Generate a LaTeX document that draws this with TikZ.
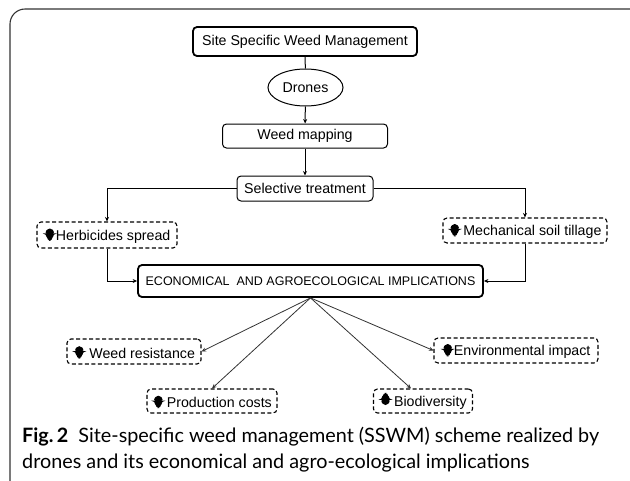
\documentclass[tikz,border=0pt]{standalone}
\usepackage{fontspec}
\setmainfont{Liberation Sans}
\newfontfamily\capfont{Lato}
\usetikzlibrary{shapes.geometric,arrows.meta}
% the nested pictures come out flipped, so they are drawn upside down here
\newcommand{\arrdown}{\tikz[baseline=0pt,x=1pt,y=1pt]\fill (-3,-0.5) -- (3,-0.5) -- (3,6.8) -- (6.2,6.8) -- (0,13.5) -- (-6.2,6.8) -- (-3,6.8) -- cycle;}
\newcommand{\arrup}{\tikz[baseline=0pt,x=1pt,y=1pt]\fill (-3,13.5) -- (3,13.5) -- (3,6.5) -- (6.2,6.5) -- (0,-0.5) -- (-6.2,6.5) -- (-3,6.5) -- cycle;}
\begin{document}
\begin{tikzpicture}[x=1pt, y=-1pt, >={Stealth[length=4.5pt,width=4pt]},
            box/.style={draw, rectangle, rounded corners=4pt, line width=1pt, inner sep=0pt, font=\fontsize{14.2}{16}\selectfont},
            bigbox/.style={box, line width=1.8pt},
            dbox/.style={box, dashed, dash pattern=on 4pt off 2.5pt, line width=1.1pt}]
            \useasboundingbox (0,0) rectangle (630,480);
            \draw[line width=1.1pt, black!80, rounded corners=15pt] (10,9) rectangle (648,496);

            \node[bigbox, minimum width=224pt, minimum height=29pt] (site) at (305,41.5) {Site Specific Weed Management};
            \node[draw, ellipse, line width=1pt, inner sep=0pt, minimum width=75pt, minimum height=37pt, font=\fontsize{14.2}{16}\selectfont] (drones) at (305.5,87.5) {Drones};
            \node[box, minimum width=165pt, minimum height=24pt] (mapping) at (305,136) {Weed mapping};
            \node[box, minimum width=136pt, minimum height=25pt] (select) at (305,188.5) {Selective treatment};

            \node[dbox, minimum width=140pt, minimum height=26pt] (herb) at (107,235) {\arrdown Herbicides spread};
            \node[dbox, minimum width=164pt, minimum height=25pt] (mech) at (525,230.5) {\arrdown\,Mechanical soil tillage};

            \node[bigbox, minimum width=345pt, minimum height=32pt, font=\fontsize{12.5}{14}\selectfont] (econ) at (310.5,281) {ECONOMICAL\ \ AND AGROECOLOGICAL IMPLICATIONS};

            \node[dbox, minimum width=134pt, minimum height=25pt] (resist) at (134,351.5) {\arrdown\ Weed resistance};
            \node[dbox, minimum width=164pt, minimum height=25pt] (env) at (516,350.5) {\arrdown Environmental impact};
            \node[dbox, minimum width=130pt, minimum height=24pt] (prod) at (212,401) {\arrdown\,Production costs};
            \node[dbox, minimum width=99pt, minimum height=24pt] (bio) at (423,401) {\arrup\,Biodiversity};
            \coordinate (bioin) at ([xshift=-12pt]bio.north);

            \draw[line width=1pt] (site) -- (drones);
            \draw[->, line width=1pt] (drones) -- (mapping);
            \draw[->, line width=1pt] (mapping) -- (select);
            \draw[->, line width=1pt] (select.west) -| (herb.north);
            \draw[->, line width=1pt] (select.east) -| (mech.north);
            \draw[->, line width=1pt] (herb.south) |- (econ.west);
            \draw[->, line width=1pt] (mech.south) |- (econ.east);

            \draw[->, line width=0.8pt, black!80] (econ.south) -- (resist.east);
            \draw[->, line width=0.8pt, black!80] (econ.south) -- (prod.north);
            \draw[->, line width=0.8pt, black!80] (econ.south) -- (bioin);
            \draw[->, line width=0.8pt, black!80] (econ.south) -- (env.west);

            \node[anchor=base west, inner sep=0pt, font=\capfont\fontsize{19.8}{24}\selectfont] (cap1) at (22,442) {\textbf{Fig.\,2}\ \ Site-specific weed management (SSWM) scheme realized by};
            \node[anchor=base west, inner sep=0pt, font=\capfont\fontsize{19.8}{24}\selectfont] (cap2) at (22,468) {drones and its economical and agro-ecological implications};
        \end{tikzpicture}
\end{document}
